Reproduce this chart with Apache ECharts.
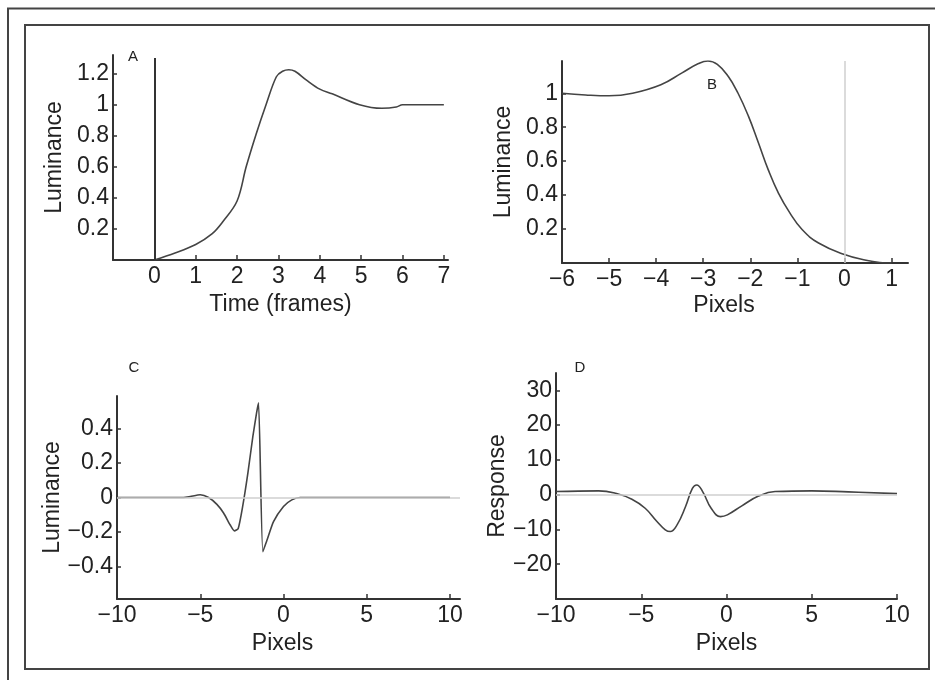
<!DOCTYPE html>
<html>
<head>
<meta charset="utf-8">
<script src="https://cdn.jsdelivr.net/npm/echarts@6/dist/echarts.min.js"></script>
<style>
html,body{margin:0;padding:0;background:#fff;}
#chart{width:935px;height:680px;}
</style>
</head>
<body>
<div id="chart"></div>
<script>
// ---- Panel A: luminance vs time (frames)
const aTime = [0, 0.5, 1.0, 1.4, 1.65, 2.0, 2.22, 2.46, 2.7, 2.95, 3.1, 3.25, 3.4, 3.67, 4.0, 4.3, 4.96, 5.5, 5.85, 6.0, 7.0];
const aLum  = [0, 0.045, 0.1, 0.17, 0.245, 0.38, 0.6, 0.81, 1.0, 1.18, 1.215, 1.225, 1.215, 1.16, 1.1, 1.07, 1.0, 0.977, 0.985, 1.0, 1.0];
const aXTicks = [0, 1, 2, 3, 4, 5, 6, 7];
const aYTicks = [0.2, 0.4, 0.6, 0.8, 1, 1.2];
const aMarkerTop = 1.3;

// ---- Panel B: luminance vs pixels
const bPix = [-6, -5.5, -5.0, -4.5, -3.9, -3.45, -3.1, -2.9, -2.7, -2.47, -2.26, -2.04, -1.83, -1.62, -1.4, -1.16, -0.9, -0.55, 0, 0.46, 0.75, 1.0];
const bLum = [1.0, 0.99, 0.985, 1.0, 1.05, 1.12, 1.175, 1.19, 1.17, 1.10, 1.0, 0.865, 0.71, 0.55, 0.41, 0.295, 0.197, 0.118, 0.05, 0.016, 0.003, 0];
const bXTicks = [-6, -5, -4, -3, -2, -1, 0, 1];
const bYTicks = [0.2, 0.4, 0.6, 0.8, 1];

// ---- Panel C: luminance (filter) vs pixels
const cPix = [-10, -6, -5.6, -5.0, -4.5, -4.0, -3.6, -3.2, -2.95, -2.72, -2.45, -2.14, -1.84, -1.62, -1.5, -1.24, -1.0, -0.6, 0, 0.5, 1.0, 10];
const cLum = [0, 0, 0.006, 0.016, 0.0, -0.04, -0.09, -0.16, -0.194, -0.18, -0.05, 0.142, 0.355, 0.49, 0.55, -0.315, -0.25, -0.14, -0.052, -0.014, 0, 0];
const cXTicks = [-10, -5, 0, 5, 10];
const cYTicks = [-0.4, -0.2, 0, 0.2, 0.4];

// ---- Panel D: response vs pixels
const dPix = [-10, -7.5, -6.5, -5.55, -4.77, -4.08, -3.59, -3.3, -2.9, -2.4, -2.0, -1.75, -1.4, -0.9, -0.35, 0.05, 0.9, 1.88, 2.85, 5.0, 7.15, 10];
const dResp = [0.9, 1.1, 0.4, -1.3, -3.9, -7.7, -10.1, -10.6, -8.7, -3.4, 1.8, 2.8, 0.9, -3.9, -6.3, -5.8, -3.2, -0.4, 0.9, 1.1, 0.8, 0.3];
const dXTicks = [-10, -5, 0, 5, 10];
const dYTicks = [-20, -10, 0, 10, 20, 30];

const zip = (xs, ys) => xs.map((x, i) => [x, ys[i]]);
const fmt = v => String(+v.toFixed(4)).replace('-', '\u2212');

const FONT = 'Liberation Sans, Arial, Helvetica, sans-serif';
const AX = '#333';
const LINE = '#444';
const GREY = '#cfcfcf';

function xAxis(gi, min, max, ticks, name, nameGap, padding) {
  return {
    type: 'value', gridIndex: gi, min, max,
    name, nameLocation: 'middle', nameGap,
    nameTextStyle: { fontFamily: FONT, fontSize: 23, color: '#222', padding: padding || 0 },
    axisLine: { show: true, onZero: false, lineStyle: { color: AX, width: 2 } },
    axisTick: { show: true, inside: true, length: 5, lineStyle: { color: AX, width: 1.5 }, customValues: ticks },
    axisLabel: { show: true, fontFamily: FONT, fontSize: 23, color: '#222', margin: 5, formatter: fmt, customValues: ticks },
    splitLine: { show: false }
  };
}
function yAxis(gi, min, max, ticks, name, nameGap) {
  return {
    type: 'value', gridIndex: gi, min, max,
    name, nameLocation: 'middle', nameGap,
    nameTextStyle: { fontFamily: FONT, fontSize: 23, color: '#222' },
    axisLine: { show: true, onZero: false, lineStyle: { color: AX, width: 2 } },
    axisTick: { show: true, inside: true, length: 4, lineStyle: { color: AX, width: 1.5 }, customValues: ticks },
    axisLabel: { show: true, fontFamily: FONT, fontSize: 23, color: '#222', margin: 4, formatter: fmt, customValues: ticks },
    splitLine: { show: false }
  };
}
function curve(i, data, smooth, markLine) {
  return {
    type: 'line', xAxisIndex: i, yAxisIndex: i, data,
    showSymbol: false, smooth,
    lineStyle: { color: LINE, width: 1.6 },
    z: 3, silent: true, animation: false,
    markLine
  };
}

const chart = echarts.init(document.getElementById('chart'), null, { renderer: 'canvas' });
chart.setOption({
  animation: false,
  backgroundColor: '#fff',
  grid: [
    { left: 113, top: 55, width: 335, height: 205 },
    { left: 562, top: 61, width: 346, height: 202 },
    { left: 117, top: 396, width: 343, height: 203 },
    { left: 556, top: 373, width: 341, height: 226 }
  ],
  xAxis: [
    xAxis(0, -1, 7.1, aXTicks, 'Time (frames)', 33),
    xAxis(1, -6, 1.35, bXTicks, 'Pixels', 31, [0, 22, 0, 0]),
    xAxis(2, -10, 10.6, cXTicks, 'Pixels', 33, [0, 12, 0, 0]),
    xAxis(3, -10, 10, dXTicks, 'Pixels', 33)
  ],
  yAxis: [
    yAxis(0, 0, 1.32, aYTicks, 'Luminance', 47),
    yAxis(1, 0, 1.19, bYTicks, 'Luminance', 47),
    yAxis(2, -0.59, 0.59, cYTicks, 'Luminance', 52),
    yAxis(3, -30, 35, dYTicks, 'Response', 44)
  ],
  series: [
    curve(0, zip(aTime, aLum), 0.35, {
      silent: true, symbol: 'none', label: { show: false },
      lineStyle: { color: AX, width: 2, type: 'solid' },
      data: [[{ coord: [0, 0] }, { coord: [0, aMarkerTop] }]]
    }),
    curve(1, zip(bPix, bLum), 0.45, {
      silent: true, symbol: 'none', label: { show: false },
      lineStyle: { color: GREY, width: 1.5, type: 'solid' },
      data: [{ xAxis: 0 }]
    }),
    curve(2, zip(cPix, cLum), 0.2, {
      silent: true, symbol: 'none', label: { show: false },
      lineStyle: { color: GREY, width: 1.5, type: 'solid' },
      data: [{ yAxis: 0 }]
    }),
    curve(3, zip(dPix, dResp), 0.45, {
      silent: true, symbol: 'none', label: { show: false },
      lineStyle: { color: GREY, width: 1.5, type: 'solid' },
      data: [{ yAxis: 0 }]
    })
  ],
  graphic: [
    { type: 'rect', silent: true, shape: { x: 8, y: 8.5, width: 1200, height: 1200 }, style: { fill: 'none', stroke: '#444', lineWidth: 2 } },
    { type: 'rect', silent: true, shape: { x: 25, y: 25, width: 904, height: 644 }, style: { fill: 'none', stroke: '#444', lineWidth: 2 } },
    { type: 'text', silent: true, x: 133, y: 57, style: { text: 'A', font: '15px ' + FONT, fill: '#222', align: 'center', verticalAlign: 'middle' } },
    { type: 'text', silent: true, x: 712, y: 85, style: { text: 'B', font: '15px ' + FONT, fill: '#222', align: 'center', verticalAlign: 'middle' } },
    { type: 'text', silent: true, x: 134, y: 368, style: { text: 'C', font: '15px ' + FONT, fill: '#222', align: 'center', verticalAlign: 'middle' } },
    { type: 'text', silent: true, x: 580, y: 368, style: { text: 'D', font: '15px ' + FONT, fill: '#222', align: 'center', verticalAlign: 'middle' } }
  ]
});
</script>
</body>
</html>
